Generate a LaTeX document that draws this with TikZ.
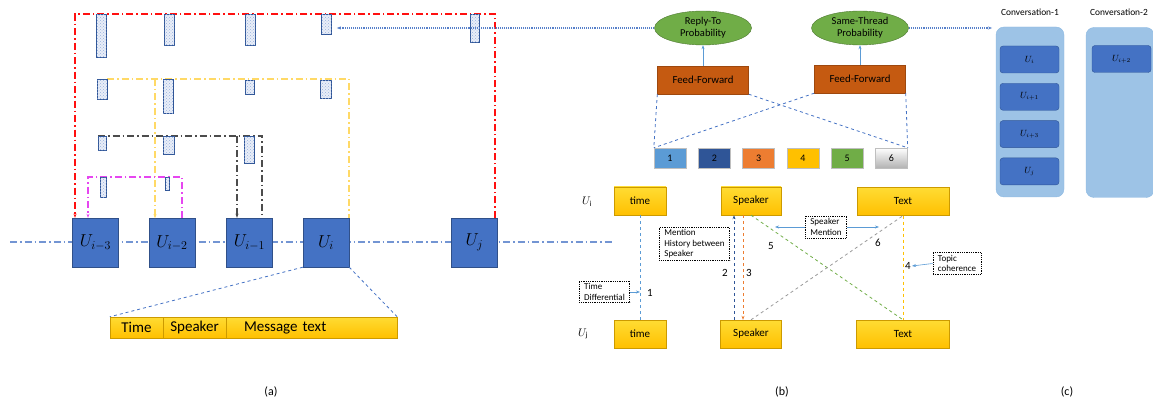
\documentclass[tikz,border=0pt]{standalone}
\usepackage{amsmath}
\usepackage{fontspec}
\setmainfont{Carlito}
\usetikzlibrary{shapes,patterns,arrows.meta}
\definecolor{ublue}{HTML}{4472C4}
\definecolor{dblue}{HTML}{2F5597}
\definecolor{lblue}{HTML}{5B9BD5}
\definecolor{pblue}{HTML}{9DC3E6}
\definecolor{ffor}{HTML}{C55A11}
\definecolor{gold}{HTML}{FFC000}
\definecolor{grn}{HTML}{70AD47}
\definecolor{orng}{HTML}{ED7D31}
\definecolor{yline}{HTML}{FFD966}
\definecolor{mline}{HTML}{E646F0}
\definecolor{rline}{HTML}{FF1010}

\begin{document}
\begin{tikzpicture}[x=1pt,y=-1pt,node distance=44.3pt,>={Stealth[length=4pt,width=3pt]}]
\tikzstyle{ubox}=[draw=ublue!70!black,fill=ublue,minimum width=46pt,minimum height=49pt,inner sep=0pt,font=\fontsize{18}{20}\selectfont]
\tikzstyle{bar}=[draw=dblue,fill=ublue!12,postaction={pattern=crosshatch dots,pattern color=ublue!55},inner sep=0pt,anchor=north west,line width=0.8pt]
\tikzstyle{gbox}=[draw=gold!80!black,top color=gold!70!yellow!80!white,bottom color=gold,inner sep=0pt,minimum height=28pt,font=\fontsize{11}{12}\selectfont]
\tikzstyle{prob}=[ellipse,draw=grn!70!black,fill=grn,minimum width=97pt,minimum height=34pt,inner sep=0pt,align=center,font=\fontsize{10.5}{12}\selectfont]
\tikzstyle{ff}=[draw=ffor!80!black,fill=ffor,minimum width=91pt,minimum height=28pt,font=\fontsize{10.8}{12}\selectfont]
\tikzstyle{numbox}=[draw=black!25,minimum width=32pt,minimum height=20pt,inner sep=0pt,font=\fontsize{10}{12}\selectfont]
\tikzstyle{note}=[draw,densely dotted,line width=0.8pt,align=left,inner xsep=5pt,inner ysep=2.5pt,font=\fontsize{9}{10.5}\selectfont]
\tikzstyle{num}=[inner sep=1pt,font=\fontsize{11}{12}\selectfont]
\tikzstyle{dashdot}=[line width=1.1pt,dash pattern=on 7pt off 3pt on 1.5pt off 3pt]
\tikzstyle{link}=[dashed,line width=0.8pt]
\tikzstyle{thinarrow}=[draw=lblue,line width=0.6pt,->]
\tikzstyle{dotline}=[draw=ublue!90,densely dotted,line width=1.1pt,->]
\tikzstyle{convbox}=[draw=lblue!70,fill=pblue,rounded corners=8pt,minimum width=68pt,minimum height=170pt]
\tikzstyle{cbox}=[draw=dblue,fill=ublue,rounded corners=3pt,minimum width=59pt,minimum height=27pt,inner sep=0pt,font=\fontsize{9}{10}\selectfont]
\tikzstyle{caption}=[font=\fontsize{12}{14}\selectfont]
\useasboundingbox (0,0) rectangle (1153,403);

% (a) utterances on the time line
\coordinate (mlL) at (10,242);
\coordinate (mlR) at (613,242);
\draw[dashdot,draw=ublue!75,line width=1.2pt] (mlL) -- (mlR);
\node[ubox] (ui3) at (95.5,242.5) {$U_{i-3}$};
\node[ubox] (ui2) at (172,243) {$U_{i-2}$};
\node[ubox] (ui1) at (249.5,242.5) {$U_{i-1}$};
\node[ubox] (ui) at (326,242.5) {$U_{i}$};
\node[ubox] (uj) at (474.5,242.5) {$U_{j}$};

% attention links
\coordinate (rTL) at (75,14);
\coordinate (rTR) at (495,14);
\draw[dashdot,draw=rline,->] (rTR |- uj.north) -- (rTR) -- (rTL) -- (rTL |- ui3.north);
\coordinate (yL) at (107,79);
\coordinate (yM) at (155,79);
\coordinate (yR) at (349,79);
\draw[dashdot,draw=yline] (yL) -- (yR) -- (yR |- ui.north);
\draw[dashdot,draw=yline,->] (yM) -- (yM |- ui2.north);
\coordinate (kL) at (98,136);
\coordinate (kM) at (237,136);
\coordinate (kR) at (262,136);
\draw[dashdot,draw=black!70] (kL) -- (kR) -- (kR |- ui1.north);
\draw[dashdot,draw=black!70,->] (kM) -- (kM |- ui1.north);
\coordinate (mL) at (88,177);
\coordinate (mR) at (182,177);
\draw[dashdot,draw=mline,->] (mR |- ui2.north) -- (mR) -- (mL) -- (mL |- ui3.north);

% attention weights
\node[bar,minimum width=10pt,minimum height=43pt] (b11) at (96,14) {};
\node[bar,minimum width=10pt,minimum height=31pt] (b12) at (164,14) {};
\node[bar,minimum width=10pt,minimum height=31pt] (b13) at (245,14) {};
\node[bar,minimum width=10pt,minimum height=20pt] (b14) at (321,14) {};
\node[bar,minimum width=9pt,minimum height=28pt] (b15) at (470,14) {};
\node[bar,minimum width=10pt,minimum height=20pt] (b21) at (97,79) {};
\node[bar,minimum width=10pt,minimum height=34pt] (b22) at (163,79) {};
\node[bar,minimum width=9pt,minimum height=14pt] (b23) at (245,80) {};
\node[bar,minimum width=11pt,minimum height=18pt] (b24) at (320,80) {};
\node[bar,minimum width=8pt,minimum height=14pt] (b31) at (98,136) {};
\node[bar,minimum width=11pt,minimum height=18pt] (b32) at (163,136) {};
\node[bar,minimum width=10pt,minimum height=27pt] (b33) at (244,136) {};
\node[bar,minimum width=6pt,minimum height=20pt] (b41) at (100,177) {};
\node[bar,minimum width=4pt,minimum height=13pt] (b42) at (165,177) {};

% message fields
\node[gbox,minimum width=53pt,minimum height=21pt,font=\fontsize{15}{16}\selectfont] (tm) at (136.5,327.5) {Time};
\node[gbox,minimum width=63pt,minimum height=21pt,font=\fontsize{15}{16}\selectfont] (spk) at (194.5,327.5) {Speaker};
\node[gbox,minimum width=171pt,minimum height=21pt,text width=163pt,align=left,font=\fontsize{15}{16}\selectfont] (msg) at (311.5,327.5) {\hspace*{14pt}Message text};
\draw[link,ublue] (ui.south west) -- (tm.north west);
\draw[link,ublue] (ui.south east) -- (msg.north east);
\node[caption] (capa) at (271,392) {(a)};

% (b) pair scoring
\node[prob] (rto) at (703,28) {Reply-To\\Probability};
\node[prob] (sth) at (860,28) {Same-Thread\\Probability};
\node[ff,below of=rto,node distance=52pt] (ff1) {Feed-Forward};
\node[ff,below of=sth,node distance=51pt] (ff2) {Feed-Forward};
\draw[thinarrow] (ff1.north) -- (rto.south);
\draw[thinarrow] (ff2.north) -- (sth.south);
\draw[dotline] (rto.west) -- ([xshift=5pt]b14.east |- rto.west);
\coordinate (c1in) at (992,28);
\draw[dotline] (sth.east) -- (c1in);

\node[numbox,fill=lblue] (n1) at (670,158) {1};
\node[numbox,fill=dblue,right of=n1] (n2) {2};
\node[numbox,fill=orng,right of=n2] (n3) {3};
\node[numbox,fill=gold,right of=n3] (n4) {4};
\node[numbox,fill=grn,right of=n4] (n5) {5};
\node[numbox,top color=white,bottom color=black!30,right of=n5] (n6) {6};
\draw[link,ublue] (ff1.south west) -- (n1.north west);
\draw[link,ublue] (ff1.south east) -- (n6.north east);
\draw[link,ublue] (ff2.south west) -- (n1.north west);
\draw[link,ublue] (ff2.south east) -- (n6.north east);

\node[gbox,minimum width=52pt] (t1) at (640,201) {time};
\node[gbox,minimum width=60pt] (s1) at (751,201) {Speaker};
\node[gbox,minimum width=92pt] (x1) at (903,201.5) {Text};
\node[gbox,minimum width=52pt,below of=t1,node distance=133pt] (t2) {time};
\node[gbox,minimum width=61pt,below of=s1,node distance=133pt] (s2) {Speaker};
\node[gbox,minimum width=93pt,below of=x1,node distance=132.5pt] (x2) {Text};
\node[num] (lui) at (587,202) {$U_{\text{i}}$};
\node[num] (luj) at (583,334) {$U_{\text{j}}$};

\draw[link,lblue] (t1.south) -- (t2.north);
\draw[link,dblue,->] ([xshift=-17pt]s2.north) -- ([xshift=-17pt]s1.south);
\draw[link,orng,->] ([xshift=-8pt]s1.south) -- ([xshift=-8pt]s2.north);
\draw[link,gold] (x1.south) -- (x2.north);
\draw[link,grn] (s1.south) -- (x2.north);
\draw[link,black!40] (s2.north) -- (x1.south);

\node[note] (td) at (604.5,292) {Time\\Differential};
\node[note] (mhb) at (694.5,244) {Mention\\History between\\Speaker};
\node[note] (smb) at (826,227) {Speaker\\Mention};
\node[note] (tcb) at (957,263.5) {Topic\\coherence};
\node[num] (l1) at (650,293) {1};
\node[num] (l2) at (725,273) {2};
\node[num] (l3) at (749,273) {3};
\node[num] (l4) at (908,266) {4};
\node[num] (l5) at (771,246) {5};
\node[num] (l6) at (878,243) {6};
\coordinate (smL) at (775,227);
\coordinate (smR) at (879,227);
\draw[thinarrow] (td.east) -- (td.east -| t1.south);
\draw[thinarrow] (smb.west) -- (smL);
\draw[thinarrow] (smb.east) -- (smR);
\draw[thinarrow] (tcb.west) -- (l4.east);
\node[caption] (capb) at (782,392) {(b)};

% (c) threads
\node[font=\fontsize{9.4}{11}\selectfont] (c1lab) at (1030,12) {Conversation-1};
\node[font=\fontsize{9.4}{11}\selectfont] (c2lab) at (1119,12) {Conversation-2};
\node[convbox] (conv1) at (1030,112) {};
\node[convbox] (conv2) at (1120,112.5) {};
\node[cbox] (c11) at (1029.5,59.5) {$U_i$};
\node[cbox,below of=c11,node distance=37.3pt] (c12) {$U_{i+1}$};
\node[cbox,below of=c12,node distance=37.3pt] (c13) {$U_{i+3}$};
\node[cbox,below of=c13,node distance=37.3pt] (c14) {$U_j$};
\node[cbox] (c21) at (1121.5,59) {$U_{i+2}$};
\node[caption] (capc) at (1067,392) {(c)};
\end{tikzpicture}
\end{document}
